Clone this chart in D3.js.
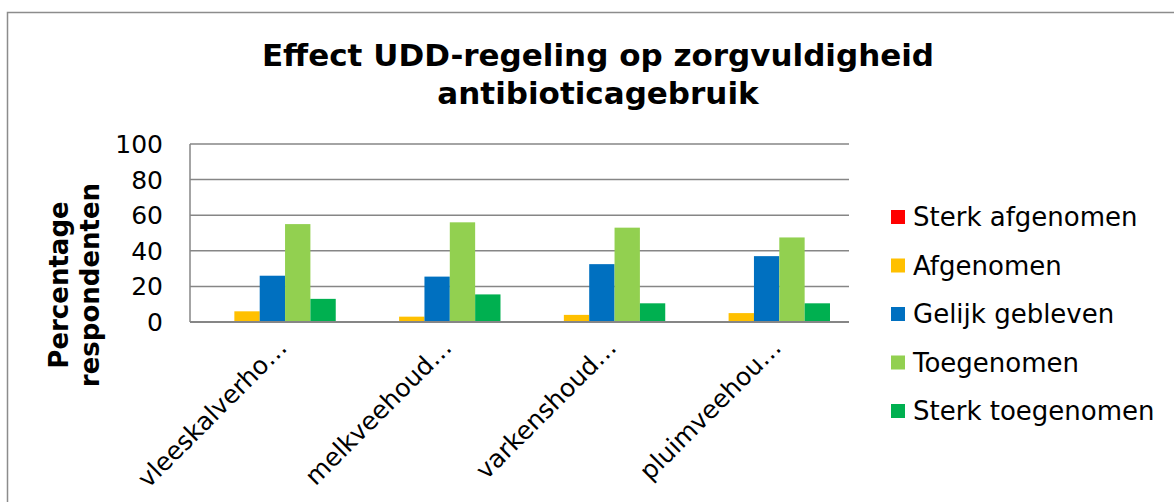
<!DOCTYPE html>
<html>
<head>
<meta charset="utf-8">
<script src="https://cdn.jsdelivr.net/npm/d3@7/dist/d3.min.js"></script>
<style>
  body { margin: 0; background: #fff; }
  svg text { font-family: "DejaVu Sans", Verdana, sans-serif; fill: #000; }
</style>
</head>
<body>
<div id="chart"></div>
<script>
var categories = ["vleeskalverho…", "melkveehoud…", "varkenshoud…", "pluimveehou…"];
var seriesNames = ["Sterk afgenomen", "Afgenomen", "Gelijk gebleven", "Toegenomen", "Sterk toegenomen"];
var seriesColors = ["#ff0000", "#ffc000", "#0070c0", "#92d050", "#00b050"];
var sterkAfgenomen = [0, 0, 0, 0];
var afgenomen = [6, 3, 4, 5];
var gelijkGebleven = [26, 25.5, 32.5, 37];
var toegenomen = [55, 56, 53, 47.5];
var sterkToegenomen = [13, 15.5, 10.5, 10.5];
var yTicks = [0, 20, 40, 60, 80, 100];

var seriesValues = [sterkAfgenomen, afgenomen, gelijkGebleven, toegenomen, sterkToegenomen];

var w = 1174, h = 502;
var plotLeft = 190, plotRight = 849, plotTop = 144, plotBottom = 322;

var svg = d3.select("#chart").append("svg")
    .attr("width", w)
    .attr("height", h);

// chart frame
svg.append("rect")
    .attr("x", 7.5).attr("y", 12.5)
    .attr("width", w + 10).attr("height", h + 10)
    .attr("fill", "none")
    .attr("stroke", "#8c8c8c")
    .attr("stroke-width", 1.5);

var x0 = d3.scaleBand()
    .domain(categories)
    .range([plotLeft, plotRight]);

// Excel style: gap width 150% between groups
var x1 = d3.scaleBand()
    .domain(seriesNames)
    .range([0, x0.bandwidth()])
    .paddingOuter(0.75);

var y = d3.scaleLinear()
    .domain([0, 100])
    .range([plotBottom, plotTop]);

// gridlines
svg.append("g")
    .selectAll("line")
    .data(yTicks)
    .enter()
    .append("line")
    .attr("x1", plotLeft).attr("x2", plotRight)
    .attr("y1", function(d){ return y(d); })
    .attr("y2", function(d){ return y(d); })
    .attr("stroke", "#868686")
    .attr("stroke-width", 1.5);

// bars
var groups = svg.append("g")
    .selectAll("g")
    .data(seriesNames)
    .enter()
    .append("g")
    .attr("fill", function(d, i){ return seriesColors[i]; });

groups.selectAll("rect")
    .data(function(d, i){
        return seriesValues[i].map(function(v, j){ return {s: d, c: categories[j], v: v}; });
    })
    .enter()
    .append("rect")
    .attr("x", function(d){ return x0(d.c) + x1(d.s); })
    .attr("y", function(d){ return y(d.v); })
    .attr("width", x1.bandwidth())
    .attr("height", function(d){ return y(0) - y(d.v); });

// axis lines
svg.append("line")
    .attr("x1", plotLeft).attr("x2", plotLeft)
    .attr("y1", plotTop).attr("y2", plotBottom)
    .attr("stroke", "#868686")
    .attr("stroke-width", 1.5);
svg.append("line")
    .attr("x1", plotLeft).attr("x2", plotRight)
    .attr("y1", plotBottom).attr("y2", plotBottom)
    .attr("stroke", "#868686")
    .attr("stroke-width", 2);

// y tick labels
svg.append("g")
    .selectAll("text")
    .data(yTicks)
    .enter()
    .append("text")
    .attr("x", 163)
    .attr("y", function(d){ return y(d); })
    .attr("dy", "0.36em")
    .attr("text-anchor", "end")
    .style("font-size", "25px")
    .text(function(d){ return d; });

// x labels, rotated
svg.append("g")
    .selectAll("text")
    .data(categories)
    .enter()
    .append("text")
    .attr("transform", function(d){
        return "translate(" + (x0(d) + x0.bandwidth() / 2 + 16) + "," + 349 + ") rotate(-45)";
    })
    .attr("text-anchor", "end")
    .style("font-size", "25px")
    .text(function(d){ return d; });

// y axis title
var yt = svg.append("text")
    .attr("transform", "translate(74,285) rotate(-90)")
    .attr("text-anchor", "middle")
    .style("font-size", "26px")
    .style("font-weight", "bold");
yt.append("tspan").attr("x", 0).attr("dy", "-0.25em").text("Percentage");
yt.append("tspan").attr("x", 0).attr("dy", "1.22em").text("respondenten");

// title
var title = svg.append("text")
    .attr("text-anchor", "middle")
    .style("font-size", "31px")
    .style("font-weight", "bold");
title.append("tspan").attr("x", 598).attr("y", 66).text("Effect UDD-regeling op zorgvuldigheid");
title.append("tspan").attr("x", 598).attr("y", 104).text("antibioticagebruik");

// legend
var legend = svg.append("g")
    .selectAll("g")
    .data(seriesNames)
    .enter()
    .append("g")
    .attr("transform", function(d, i){ return "translate(891," + (217 + i * 48.5) + ")"; });

legend.append("rect")
    .attr("x", 0).attr("y", -7)
    .attr("width", 14).attr("height", 14)
    .attr("fill", function(d, i){ return seriesColors[i]; });

legend.append("text")
    .attr("x", 22)
    .attr("dy", "0.36em")
    .style("font-size", "26px")
    .text(function(d){ return d; });
</script>
</body>
</html>
